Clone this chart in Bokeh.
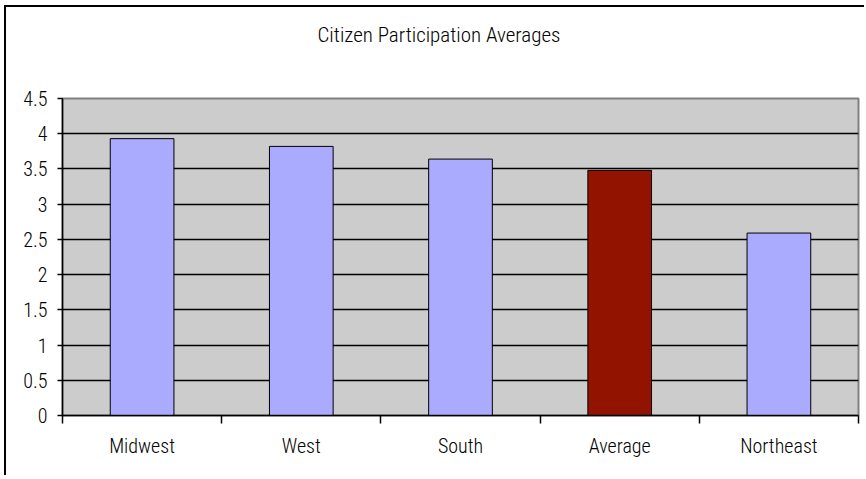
from bokeh.plotting import figure
from bokeh.models import FixedTicker, ColumnDataSource, Title
from bokeh.embed import file_html
from bokeh.resources import INLINE

# ---- data ----
categories = ["Midwest", "West", "South", "Average", "Northeast"]
values = [3.93, 3.82, 3.64, 3.48, 2.59]
y_ticks = [0, 0.5, 1, 1.5, 2, 2.5, 3, 3.5, 4, 4.5]
y_tick_labels = ["0", "0.5", "1", "1.5", "2", "2.5", "3", "3.5", "4", "4.5"]
title_text = "Citizen Participation Averages"

FONT = "'Roboto Condensed Light', 'Roboto Condensed', 'Liberation Sans Narrow', sans-serif"
BAR = "#AAAAFF"
HIGHLIGHT = "#921400"

x_pos = [i + 0.5 for i in range(len(categories))]
colors = [HIGHLIGHT if c == "Average" else BAR for c in categories]
src = ColumnDataSource(dict(x=x_pos, top=values, color=colors))

p = figure(width=860, height=470, x_range=(0, len(categories)), y_range=(0, 4.5),
           output_backend="svg", toolbar_location=None,
           min_border_left=56, min_border_right=8, min_border_top=91, min_border_bottom=62)

p.background_fill_color = "#CCCCCC"
p.border_fill_color = "white"
p.outline_line_color = "#808080"
p.outline_line_width = 2

p.vbar(x="x", top="top", width=0.4, bottom=0, fill_color="color",
       line_color="black", line_width=1, source=src)

# spacer between frame and title (invisible)
spacer = Title(text=" ", text_font_size="1px", standoff=47)
p.add_layout(spacer, "above")

t = Title(text=title_text, align="left", vertical_align="top", text_font=FONT,
          text_font_size="21px", text_font_style="normal", text_color="black",
          standoff=0, offset=255)
p.add_layout(t, "above")

# y axis
p.yaxis.ticker = FixedTicker(ticks=y_ticks, minor_ticks=[])
p.yaxis.major_label_overrides = {v: l for v, l in zip(y_ticks, y_tick_labels)}
p.yaxis.major_tick_out = 5
p.yaxis.major_tick_in = 0
p.yaxis.minor_tick_out = 0
p.yaxis.minor_tick_in = 0
p.yaxis.axis_line_color = "black"
p.yaxis.axis_line_width = 1.5
p.yaxis.major_tick_line_width = 1.5
p.yaxis.major_label_text_font = FONT
p.yaxis.major_label_text_font_size = "20px"
p.yaxis.major_label_text_color = "black"
p.yaxis.major_label_standoff = 10

# x axis
p.xaxis.ticker = FixedTicker(ticks=x_pos, minor_ticks=list(range(len(categories) + 1)))
p.xaxis.major_label_overrides = {v: c for v, c in zip(x_pos, categories)}
p.xaxis.major_tick_out = 0
p.xaxis.major_tick_in = 0
p.xaxis.minor_tick_out = 8
p.xaxis.minor_tick_in = 0
p.xaxis.minor_tick_line_color = "black"
p.xaxis.minor_tick_line_width = 1.5
p.xaxis.axis_line_color = "black"
p.xaxis.axis_line_width = 1.5
p.xaxis.major_label_text_font = FONT
p.xaxis.major_label_text_font_size = "20px"
p.xaxis.major_label_text_color = "black"
p.xaxis.major_label_standoff = 10

p.xgrid.grid_line_color = None
p.ygrid.grid_line_color = "black"
p.ygrid.grid_line_width = 1.5
p.ygrid.ticker = FixedTicker(ticks=y_ticks[:-1])

p.styles = {"border-top": "2px solid black", "border-left": "2px solid black",
            "margin-left": "4px", "margin-top": "5px"}

open("out.html", "w").write(file_html(p, INLINE))
